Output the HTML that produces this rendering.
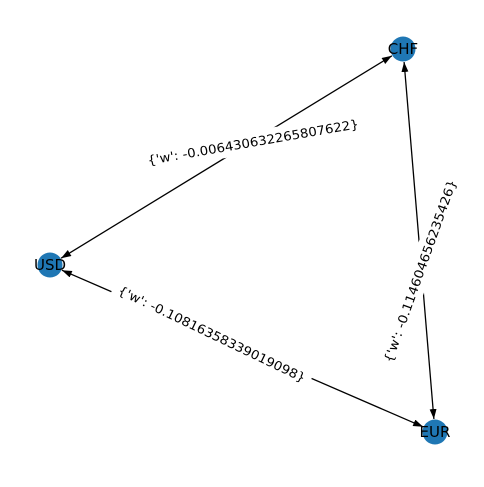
<!DOCTYPE html>
<html><head><style>html,body{margin:0;padding:0;background:#fff}</style></head><body>
<svg width="484" height="482" viewBox="0 0 484 482" xmlns="http://www.w3.org/2000/svg">
<defs>
<marker id="a" markerUnits="userSpaceOnUse" markerWidth="10" markerHeight="8" refX="10" refY="3.5" orient="auto-start-reverse">
<path d="M0,0 L10,3.5 L0,7 z" fill="#000"/>
</marker>
</defs>
<g stroke="#000" stroke-width="1.3" fill="none">
<line x1="61.1" y1="258.2" x2="391.9" y2="55.8" marker-start="url(#a)" marker-end="url(#a)"/>
<line x1="404.1" y1="62" x2="433.9" y2="419" marker-start="url(#a)" marker-end="url(#a)"/>
<line x1="61.9" y1="270.2" x2="423.1" y2="426.8" marker-start="url(#a)" marker-end="url(#a)"/>
</g>
<g font-family="'DejaVu Sans', 'Liberation Sans', sans-serif" font-size="12.5" text-anchor="middle" dominant-baseline="central">
<g transform="translate(253,142) rotate(-9.9)"><rect x="-112" y="-11" width="224" height="22" fill="#fff"/><text x="0" y="0" textLength="214" lengthAdjust="spacingAndGlyphs">{'w': -0.006430632265807622}</text></g>
<g transform="translate(212,334) rotate(25.6)"><rect x="-109" y="-11" width="218" height="22" fill="#fff"/><text x="0" y="0" textLength="206" lengthAdjust="spacingAndGlyphs">{'w': -0.10816358339019098}</text></g>
<g transform="translate(420,271) rotate(-70.4)"><rect x="-102" y="-11" width="204" height="22" fill="#fff"/><text x="0" y="0" textLength="193" lengthAdjust="spacingAndGlyphs">{'w': -0.114604656235426}</text></g>
</g>
<g fill="#1f77b4">
<circle cx="403" cy="49" r="12.5"/>
<circle cx="50" cy="265" r="12.5"/>
<circle cx="435" cy="432" r="12.5"/>
</g>
<g font-family="'DejaVu Sans', 'Liberation Sans', sans-serif" font-size="15" text-anchor="middle" dominant-baseline="central" fill="#000">
<text x="403" y="49">CHF</text>
<text x="50" y="265">USD</text>
<text x="435" y="432">EUR</text>
</g>
</svg>
</body></html>
